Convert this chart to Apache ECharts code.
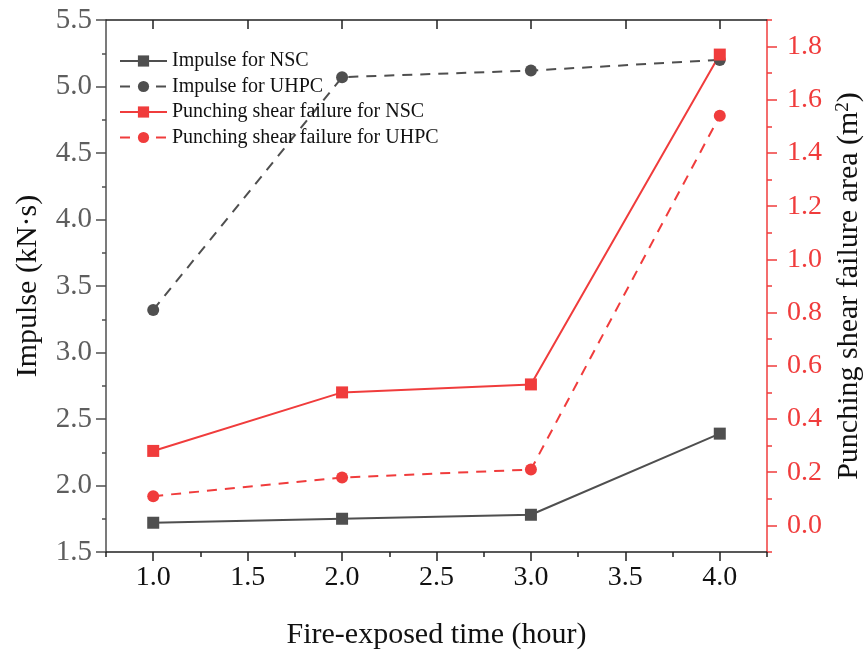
<!DOCTYPE html>
<html>
<head>
<meta charset="utf-8">
<script src="https://cdn.jsdelivr.net/npm/echarts@6/dist/echarts.min.js"></script>
<style>html,body{margin:0;padding:0;background:#fff;}#c{width:864px;height:653px;}</style>
</head>
<body>
<div id="c"></div>
<script>
const timeHours = [1.0, 2.0, 3.0, 4.0];
const impulseNSC = [1.72, 1.75, 1.78, 2.39];
const impulseUHPC = [3.32, 5.07, 5.12, 5.20];
const punchNSC = [0.28, 0.50, 0.53, 1.77];
const punchUHPC = [0.11, 0.18, 0.21, 1.54];
const xTicks = [1.0, 1.5, 2.0, 2.5, 3.0, 3.5, 4.0];
const xMinorTicks = [0.75, 1.25, 1.75, 2.25, 2.75, 3.25, 3.75, 4.25];
const rightTicks = [0.0, 0.2, 0.4, 0.6, 0.8, 1.0, 1.2, 1.4, 1.6, 1.8];

const GREY = '#4f4f4f';
const RED = '#f03c3c';
const FONT = '"Liberation Serif", "Times New Roman", serif';

function pairs(ys){ return timeHours.map((x,i)=>[x, ys[i]]); }

const chart = echarts.init(document.getElementById('c'), null, {renderer:'canvas'});
chart.setOption({
  animation: false,
  backgroundColor: '#fff',
  grid: {left: 106, right: 97, top: 20, bottom: 101, containLabel: false, outerBoundsMode: 'none'},
  legend: {
    left: 114, top: 46, orient: 'vertical',
    itemWidth: 47, itemHeight: 14, itemGap: 5.5,
    textStyle: {fontFamily: FONT, fontSize: 20, color: '#111'},
    data: ['Impulse for NSC','Impulse for UHPC','Punching shear failure for NSC','Punching shear failure for UHPC']
  },
  xAxis: [
    {
      type: 'value', position: 'bottom', min: 0.75, max: 4.25,
      name: 'Fire-exposed time (hour)', nameLocation: 'middle', nameGap: 68,
      nameTextStyle: {fontFamily: FONT, fontSize: 30, color: '#111'},
      axisLine: {show: true, onZero: false, lineStyle: {color: '#222', width: 1.5}},
      axisTick: {show: true, customValues: xTicks, length: 9, lineStyle: {color: '#222', width: 1.5}},
      axisLabel: {customValues: xTicks, fontFamily: FONT, fontSize: 28, color: '#111', margin: 12,
        formatter: v => v.toFixed(1)},
      splitLine: {show: false}
    },
    {
      type: 'value', position: 'bottom', min: 0.75, max: 4.25,
      axisLine: {show: false, onZero: false},
      axisTick: {show: true, customValues: xMinorTicks, length: 5, lineStyle: {color: '#222', width: 1.5}},
      axisLabel: {show: false}, splitLine: {show: false}
    },
    {
      type: 'value', position: 'top', min: 0.75, max: 4.25,
      axisLine: {show: true, onZero: false, lineStyle: {color: '#222', width: 1.5}},
      axisTick: {show: true, inside: true, customValues: xTicks, length: 9, lineStyle: {color: '#222', width: 1.5}},
      axisLabel: {show: false}, splitLine: {show: false}
    }
  ],
  yAxis: [
    {
      type: 'value', position: 'left', min: 1.5, max: 5.5, interval: 0.5,
      name: 'Impulse (kN·s)', nameLocation: 'middle', nameGap: 63, nameRotate: 90,
      nameTextStyle: {fontFamily: FONT, fontSize: 30, color: '#111'},
      axisLine: {show: true, onZero: false, lineStyle: {color: GREY, width: 1.5}},
      axisTick: {show: true, length: 10, lineStyle: {color: GREY, width: 1.5}},
      minorTick: {show: true, splitNumber: 2, length: 4, lineStyle: {color: GREY, width: 1.5}},
      axisLabel: {fontFamily: FONT, fontSize: 29, color: '#5e5e5e', margin: 14, formatter: v => v.toFixed(1)},
      splitLine: {show: false}
    },
    {
      type: 'value', position: 'right', min: -0.1, max: 1.9,
      name: 'Punching shear failure area (m{sup|2})', nameLocation: 'middle', nameGap: 67, nameRotate: 90,
      nameTextStyle: {fontFamily: FONT, fontSize: 30, color: '#111',
        rich: {sup: {fontFamily: FONT, fontSize: 19, color: '#111', verticalAlign: 'top', padding: [0, 0, 10, 0]}}},
      axisLine: {show: true, onZero: false, lineStyle: {color: RED, width: 1.5}},
      axisTick: {show: true, customValues: rightTicks, length: 10, lineStyle: {color: RED, width: 1.5}},
      axisLabel: {customValues: rightTicks, fontFamily: FONT, fontSize: 28, color: RED, margin: 20, formatter: v => v.toFixed(1)},
      splitLine: {show: false}
    },
    {
      type: 'value', position: 'right', min: -0.1, max: 1.9, interval: 0.2,
      axisLine: {show: false, onZero: false},
      axisTick: {show: true, length: 5, lineStyle: {color: RED, width: 1.5}},
      axisLabel: {show: false}, splitLine: {show: false}
    }
  ],
  series: [
    {
      name: 'Impulse for NSC', type: 'line', xAxisIndex: 0, yAxisIndex: 0,
      data: pairs(impulseNSC), symbol: 'rect', symbolSize: 12,
      lineStyle: {color: GREY, width: 2}, itemStyle: {color: GREY}
    },
    {
      name: 'Impulse for UHPC', type: 'line', xAxisIndex: 0, yAxisIndex: 0,
      data: pairs(impulseUHPC), symbol: 'circle', symbolSize: 12,
      lineStyle: {color: GREY, width: 2, type: [10, 8]}, itemStyle: {color: GREY}
    },
    {
      name: 'Punching shear failure for NSC', type: 'line', xAxisIndex: 0, yAxisIndex: 1,
      data: pairs(punchNSC), symbol: 'rect', symbolSize: 12,
      lineStyle: {color: RED, width: 2}, itemStyle: {color: RED}
    },
    {
      name: 'Punching shear failure for UHPC', type: 'line', xAxisIndex: 0, yAxisIndex: 1,
      data: pairs(punchUHPC), symbol: 'circle', symbolSize: 12,
      lineStyle: {color: RED, width: 2, type: [10, 8]}, itemStyle: {color: RED}
    }
  ]
});
</script>
</body>
</html>
